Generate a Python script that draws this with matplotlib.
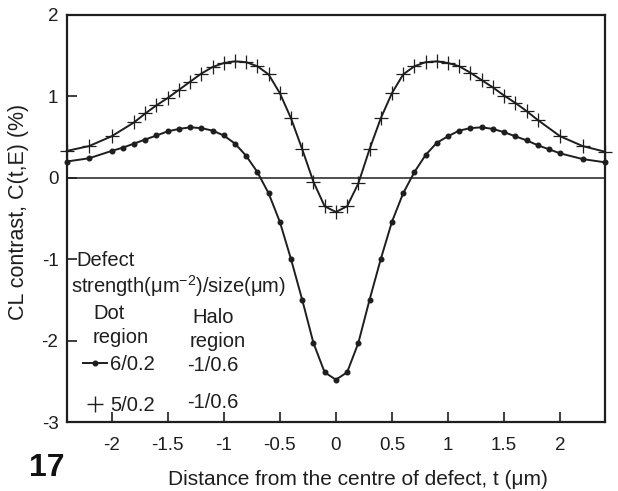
import matplotlib
matplotlib.use('Agg')
import matplotlib.pyplot as plt
from matplotlib.lines import Line2D

plt.rcParams['font.family'] = ['Liberation Sans', 'DejaVu Sans']
plt.rcParams['mathtext.fontset'] = 'custom'
plt.rcParams['mathtext.rm'] = 'Liberation Sans'
plt.rcParams['mathtext.it'] = 'Liberation Sans:italic'
plt.rcParams['axes.unicode_minus'] = False

# dot region 6/0.2, halo -1/0.6
x_ponto = [-2.4, -2.2, -2.0, -1.9, -1.8, -1.7, -1.6, -1.5, -1.4, -1.3, -1.2,
           -1.1, -1.0, -0.9, -0.8, -0.7, -0.6, -0.5, -0.4, -0.3, -0.2, -0.1,
           0.0, 0.1, 0.2, 0.3, 0.4, 0.5, 0.6, 0.7, 0.8, 0.9, 1.0, 1.1, 1.2,
           1.3, 1.4, 1.5, 1.6, 1.7, 1.8, 1.9, 2.0, 2.2, 2.4]
c_ponto = [0.20, 0.24, 0.33, 0.37, 0.42, 0.47, 0.52, 0.57, 0.60, 0.62, 0.61,
           0.58, 0.52, 0.42, 0.27, 0.07, -0.19, -0.54, -1.00, -1.50, -2.03,
           -2.39, -2.48, -2.39, -2.03, -1.50, -1.00, -0.54, -0.19, 0.07, 0.28,
           0.43, 0.51, 0.58, 0.61, 0.62, 0.60, 0.56, 0.51, 0.46, 0.40, 0.35,
           0.30, 0.23, 0.19]

# dot region 5/0.2, halo -1/0.6
x_cruz = [-2.4, -2.2, -2.0, -1.8, -1.7, -1.6, -1.5, -1.4, -1.3, -1.2, -1.1,
          -1.0, -0.9, -0.8, -0.7, -0.6, -0.5, -0.4, -0.3, -0.2, -0.1, 0.0,
          0.1, 0.2, 0.3, 0.4, 0.5, 0.6, 0.7, 0.8, 0.9, 1.0, 1.1, 1.2, 1.3,
          1.4, 1.5, 1.6, 1.7, 1.8, 2.0, 2.2, 2.4]
c_cruz = [0.33, 0.39, 0.51, 0.68, 0.79, 0.89, 0.98, 1.08, 1.18, 1.28, 1.36,
          1.41, 1.43, 1.42, 1.37, 1.27, 1.04, 0.73, 0.35, -0.05, -0.35, -0.42,
          -0.35, -0.07, 0.35, 0.73, 1.04, 1.27, 1.37, 1.42, 1.43, 1.41, 1.37,
          1.29, 1.20, 1.11, 1.01, 0.92, 0.82, 0.71, 0.51, 0.39, 0.32]

xticks = [-2, -1.5, -1, -0.5, 0, 0.5, 1, 1.5, 2]
xtick_labels = ['-2', '-1.5', '-1', '-0.5', '0', '0.5', '1', '1.5', '2']
yticks = [-3, -2, -1, 0, 1, 2]
ytick_labels = ['-3', '-2', '-1', '0', '1', '2']

cor = '#1e1e1e'

fig = plt.figure(figsize=(6.18, 4.91), dpi=100)
ax = fig.add_axes([0.108, 0.1405, 0.871, 0.829])

# linha do zero
ax.axhline(0, color=cor, lw=1.1, zorder=1)

ax.plot(x_ponto, c_ponto, color=cor, lw=1.4, marker='o', markersize=3.3,
        clip_on=False, zorder=3)
ax.plot(x_cruz, c_cruz, color=cor, lw=1.4, marker='+', markersize=10,
        markeredgewidth=0.9, clip_on=False, zorder=3)

ax.set_xlim(-2.4, 2.4)
ax.set_ylim(-3, 2)
ax.set_xticks(xticks)
ax.set_xticklabels(xtick_labels)
ax.set_yticks(yticks)
ax.set_yticklabels(ytick_labels)
ax.tick_params(axis='x', direction='in', length=7, width=1.2, pad=11,
               labelsize=13.5, colors=cor)
ax.tick_params(axis='y', direction='in', length=7, width=1.2, pad=6,
               labelsize=13.5, colors=cor)
for s in ax.spines.values():
    s.set_linewidth(1.6)
    s.set_color(cor)

ax.set_xlabel('Distance from the centre of defect, t (μm)', fontsize=15,
              color=cor)
ax.xaxis.set_label_coords(0.541, -0.118)
ax.set_ylabel('CL contrast, C(t,E) (%)', fontsize=15.5, color=cor)
ax.yaxis.set_label_coords(-0.07, 0.515)


def px(x, y):
    # pixel da figura -> fracao do eixo
    return (x - 66.7) / 538.3, (422 - y) / 407


tam = 14.5
for texto, (xp, yp) in [('Defect', (76, 261)),
                        ('strength(μm$^{-2}$)/size(μm)', (71, 286)),
                        ('Dot', (93, 313)),
                        ('region', (93, 337)),
                        ('Halo', (192, 317)),
                        ('region', (190, 341)),
                        ('-1/0.6', (187, 365)),
                        ('-1/0.6', (187, 402))]:
    ax.text(*px(xp, yp), texto, transform=ax.transAxes, fontsize=tam,
            ha='left', va='center', color=cor)

alcas = [Line2D([], [], color=cor, lw=1.4, marker='o', markersize=3.3),
         Line2D([], [], color=cor, lw=0, marker='+', markersize=11,
                markeredgewidth=1.0)]
leg = ax.legend(alcas, ['6/0.2', '5/0.2'], loc='upper left',
                bbox_to_anchor=px(83, 355), frameon=False, fontsize=tam,
                handlelength=1.2, handletextpad=0.15, labelspacing=1.1,
                borderpad=0, borderaxespad=0)
for t in leg.get_texts():
    t.set_color(cor)

fig.text(47 / 618, 1 - 468 / 491, '17', fontsize=23, fontweight='bold',
         ha='center', va='center', color='#111111')

fig.savefig('out.png', dpi=100, facecolor='white')
